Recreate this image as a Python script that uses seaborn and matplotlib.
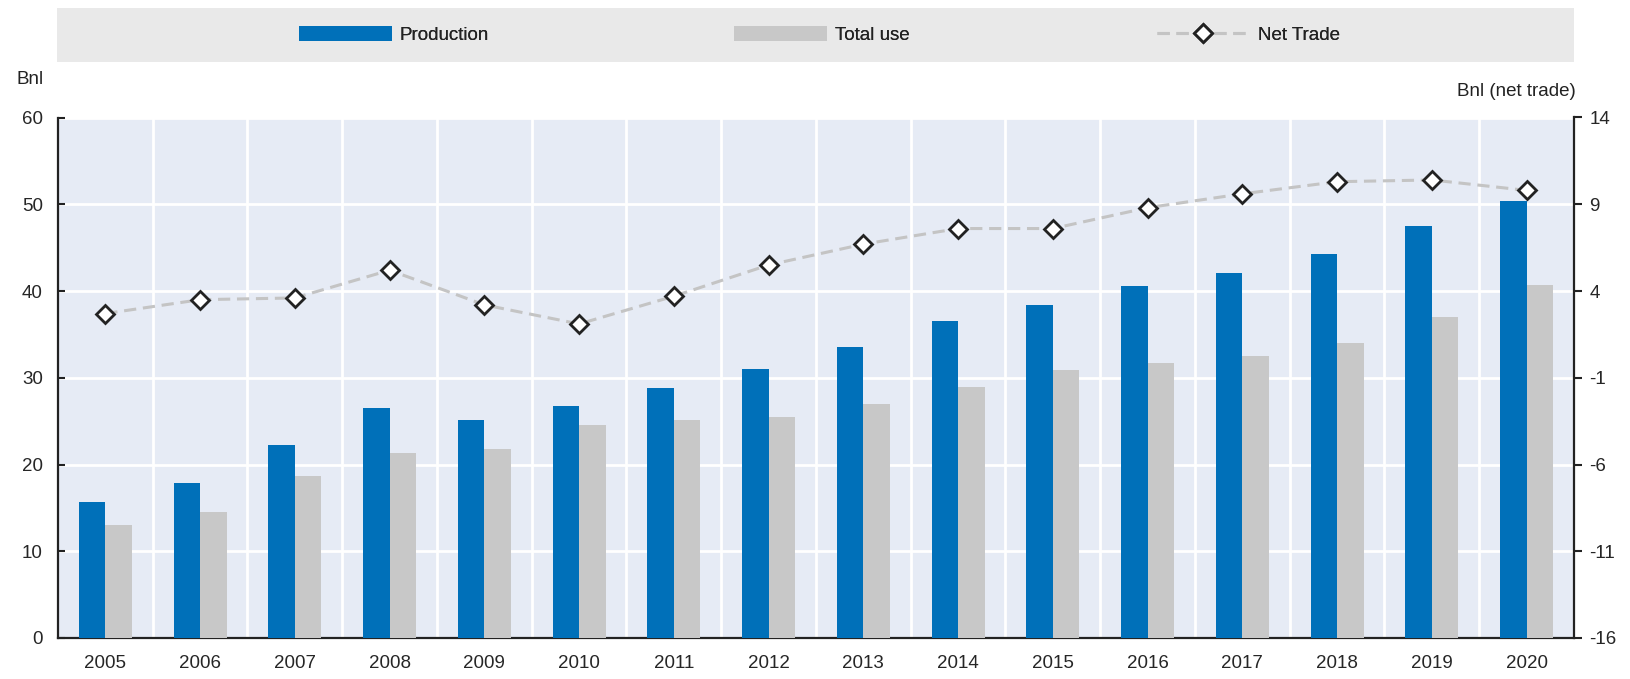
import numpy as np
import pandas as pd
import seaborn as sns
import matplotlib.pyplot as plt
from matplotlib.patches import Rectangle, Patch
from matplotlib.lines import Line2D

# chart data
years = [str(y) for y in range(2005, 2021)]
production = [15.7, 17.9, 22.3, 26.5, 25.1, 26.7, 28.8, 31.0, 33.6, 36.5, 38.4, 40.6, 42.1, 44.3, 47.5, 50.4]
total_use = [13.0, 14.5, 18.7, 21.3, 21.8, 24.6, 25.1, 25.5, 27.0, 28.9, 30.9, 31.7, 32.5, 34.0, 37.0, 40.7]
net_trade = [2.7, 3.5, 3.6, 5.2, 3.2, 2.1, 3.7, 5.5, 6.7, 7.6, 7.6, 8.8, 9.6, 10.3, 10.4, 9.8]
left_ticks = [0, 10, 20, 30, 40, 50, 60]
right_ticks = [-16, -11, -6, -1, 4, 9, 14]

blue = '#0070B9'
grey = '#C8C8C8'
dark = '#222222'
fs = 13.5
em = fs * 100 / 72  # font size in px

sns.set_style('white', {'axes.facecolor': '#E6EBF5'})
plt.rcParams['font.family'] = ['Liberation Sans', 'DejaVu Sans']
plt.rcParams['text.color'] = dark
plt.rcParams['axes.unicode_minus'] = False

fig = plt.figure(figsize=(16.31, 6.79), dpi=100)
ax = fig.add_axes([58 / 1631, 41 / 679, 1516 / 1631, 520.5 / 679])

df = pd.DataFrame({
    'year': years * 2,
    'value': production + total_use,
    'series': ['Production'] * len(years) + ['Total use'] * len(years),
})
sns.barplot(data=df, x='year', y='value', hue='series', palette=[blue, grey],
            width=0.56, gap=0, linewidth=0, saturation=1, legend=False,
            ax=ax, zorder=3)

ax.set_xlim(-0.5, len(years) - 0.5)
ax.set_ylim(0, 60)
ax.set_yticks(left_ticks)
ax.set_xticks(range(len(years)), years)
ax.set_xticks(np.arange(0.5, len(years) - 1, 1), minor=True)
ax.set_xlabel('')
ax.set_ylabel('')
ax.grid(axis='y', color='white', lw=2)
ax.grid(axis='x', which='minor', color='white', lw=2)
ax.set_axisbelow(True)
ax.tick_params(axis='x', which='major', length=0, pad=12, labelsize=fs)
ax.tick_params(axis='x', which='minor', direction='in', length=5, width=1.5, color=dark)
ax.tick_params(axis='y', direction='in', length=5, width=1.5, color=dark, pad=11, labelsize=fs)
for s in ['top', 'right']:
    ax.spines[s].set_visible(False)
for s in ['left', 'bottom']:
    ax.spines[s].set_color(dark)
    ax.spines[s].set_linewidth(1.6)

ax2 = ax.twinx()
sns.lineplot(x=np.arange(len(years)), y=net_trade, ax=ax2, color='#C4C4C4', lw=2.2,
             linestyle=(0, (4, 2.2)), marker='D', markersize=9.5, markerfacecolor='white',
             markeredgecolor=dark, markeredgewidth=2, legend=False)
ax.set_xlim(-0.5, len(years) - 0.5)
ax2.set_ylim(-16, 14)
ax2.set_yticks(right_ticks)
ax2.set_ylabel('')
ax2.tick_params(axis='y', direction='out', length=6, width=1.5, color=dark, pad=5, labelsize=fs)
for s in ['top', 'left', 'bottom']:
    ax2.spines[s].set_visible(False)
ax2.spines['right'].set_color(dark)
ax2.spines['right'].set_linewidth(1.6)

# axis unit labels
fig.text(17 / 1631, 1 - 80 / 679, 'Bnl', ha='left', va='center', fontsize=fs)
fig.text(1576 / 1631, 1 - 92 / 679, 'Bnl (net trade)', ha='right', va='center', fontsize=fs)

# legend band
fig.add_artist(Rectangle((57 / 1631, 1 - 62 / 679), 1517 / 1631, 54 / 679,
                         transform=fig.transFigure, facecolor='#E9E9E9', edgecolor='none', zorder=0))
entries = [
    (299, Patch(facecolor=blue, edgecolor='none'), 'Production'),
    (734, Patch(facecolor=grey, edgecolor='none'), 'Total use'),
    (1157, Line2D([], [], color='#C4C4C4', lw=2.2, linestyle=(0, (4, 2.2)), marker='D',
                  markersize=9.5, markerfacecolor='white', markeredgecolor=dark,
                  markeredgewidth=2), 'Net Trade'),
]
for x0, h, lab in entries:
    leg = fig.legend([h], [lab], loc='center left', bbox_to_anchor=(x0 / 1631, 1 - 35 / 679),
                     frameon=False, fontsize=fs, borderpad=0, borderaxespad=0,
                     handlelength=93 / em, handleheight=16 / em, handletextpad=8 / em,
                     numpoints=1)
    fig.add_artist(leg)

fig.savefig('out.png', dpi=100)
